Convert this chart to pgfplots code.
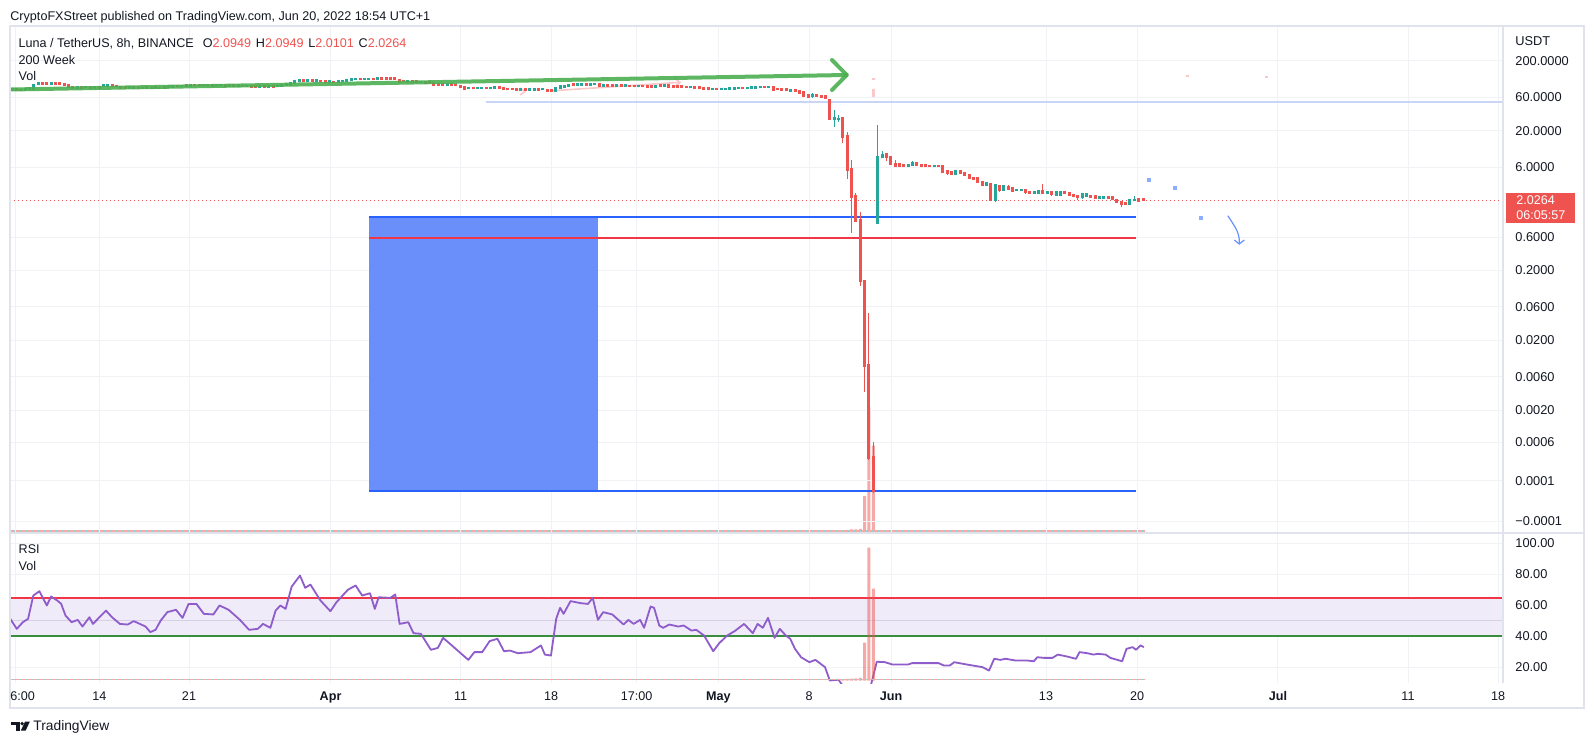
\documentclass[border=0pt]{standalone}
\usepackage{pgfplots}
\pgfplotsset{compat=1.18}
\usepackage{pgfplotstable}
\usepackage{fontspec}
\setmainfont{Liberation Sans}
\definecolor{txt}{HTML}{131722}
\definecolor{cred}{HTML}{EF5350}
\definecolor{cgreen}{HTML}{26A69A}
\definecolor{gridc}{HTML}{F0F2F5}
\definecolor{framec}{HTML}{E0E3EB}
\definecolor{rectblue}{HTML}{6A8FFB}
\definecolor{lineblue}{HTML}{2962FF}
\definecolor{linered}{HTML}{F23645}
\definecolor{arrowgreen}{HTML}{4CAF50}
\definecolor{mablue}{HTML}{C9D5F7}
\definecolor{rsipurple}{HTML}{8E5CCB}
\definecolor{bandc}{HTML}{EFEBF8}
\definecolor{midc}{HTML}{D6D0E4}
\definecolor{rsigreen}{HTML}{388E3C}
\definecolor{volteal}{HTML}{93D2CD}
\definecolor{volpink}{HTML}{F7A9A8}
\definecolor{faintpink}{HTML}{FAC8C8}
\definecolor{dotblue}{HTML}{8FADFF}
\newcommand{\fs}[1]{\fontsize{#1}{#1}\selectfont}
\newcommand{\PY}{ln(\thisrow{p})/2.302585}
\pgfplotsset{
  candlew/.style={draw=none, no markers, forget plot,
    /pgfplots/error bars/y dir=plus, /pgfplots/error bars/y explicit,
    /pgfplots/error bars/error mark=none,
    /pgfplots/error bars/error bar style={draw=#1, solid, line width=0.5pt}},
  candleb/.style={draw=none, no markers, forget plot,
    /pgfplots/error bars/y dir=plus, /pgfplots/error bars/y explicit,
    /pgfplots/error bars/error mark=none,
    /pgfplots/error bars/error bar style={draw=#1, solid, line width=1.5pt,
      shorten <=-0.4pt, shorten >=-0.4pt}}}

\pgfplotstableread{
i o h l c
1 79.4 80.8 75.6 76.9
2 78.1 79.4 74.4 75.6
7 98.4 100.0 92.1 93.7
8 96.8 98.4 92.1 93.7
10 96.8 98.4 92.1 93.7
11 96.8 98.4 90.6 92.1
12 93.7 95.2 89.1 90.6
13 90.6 92.1 82.1 83.5
14 86.2 87.7 80.8 82.1
16 84.8 86.2 80.8 82.1
18 86.2 87.7 80.8 82.1
20 84.8 86.2 80.8 82.1
23 92.1 93.7 86.2 87.7
24 89.1 90.6 84.8 86.2
25 86.2 87.7 80.8 82.1
26 86.2 87.7 80.8 82.1
28 84.8 86.2 79.4 80.8
30 83.5 84.8 79.4 80.8
31 84.8 86.2 80.8 82.1
33 84.8 86.2 80.8 82.1
35 84.8 86.2 80.8 82.1
38 89.1 90.6 84.8 86.2
40 90.6 92.1 84.8 86.2
42 92.1 93.7 87.7 89.1
43 92.1 93.7 87.7 89.1
45 92.1 93.7 87.7 89.1
46 90.6 92.1 86.2 87.7
49 90.6 92.1 86.2 87.7
51 90.6 92.1 86.2 87.7
53 89.1 90.6 84.8 86.2
55 87.7 89.1 83.5 84.8
56 87.7 89.1 83.5 84.8
58 87.7 89.1 83.5 84.8
60 87.7 89.1 83.5 84.8
67 106.8 108.6 101.7 103.4
69 106.8 108.6 101.7 103.4
71 105.1 106.8 100.0 101.7
72 103.4 105.1 98.4 100.0
74 101.7 103.4 96.8 98.4
80 112.2 114.1 106.8 108.6
83 112.2 114.1 106.8 108.6
85 114.1 116.0 108.6 110.4
86 114.1 116.0 108.6 110.4
87 114.1 116.0 108.6 110.4
88 114.1 116.0 108.6 110.4
89 108.6 110.4 96.8 98.4
90 105.1 106.8 100.0 101.7
92 105.1 106.8 98.4 100.0
93 103.4 105.1 96.8 98.4
95 101.7 103.4 95.2 96.8
96 100.0 101.7 95.2 96.8
97 96.8 98.4 89.1 90.6
98 95.2 96.8 89.1 90.6
99 95.2 96.8 89.1 90.6
101 93.7 95.2 89.1 90.6
102 92.1 93.7 87.7 89.1
103 89.1 90.6 82.1 83.5
104 84.8 86.2 78.1 79.4
106 83.5 84.8 79.4 80.8
109 83.5 84.8 79.4 80.8
112 84.8 86.2 79.4 80.8
113 83.5 84.8 76.9 78.1
114 80.8 82.1 76.9 78.1
115 80.8 82.1 76.9 78.1
116 79.4 80.8 75.6 76.9
118 79.4 80.8 75.6 76.9
121 79.4 80.8 75.6 76.9
123 78.1 79.4 73.1 74.4
124 78.1 79.4 73.1 74.4
129 93.7 95.2 89.1 90.6
132 93.7 95.2 89.1 90.6
135 95.2 96.8 84.8 86.2
137 90.6 92.1 86.2 87.7
138 90.6 92.1 86.2 87.7
140 90.6 92.1 86.2 87.7
142 89.1 90.6 84.8 86.2
143 89.1 90.6 84.8 86.2
145 89.1 90.6 84.8 86.2
146 87.7 89.1 83.5 84.8
147 89.1 90.6 82.1 83.5
149 90.6 92.1 84.8 86.2
151 90.6 92.1 82.1 83.5
152 87.7 89.1 83.5 84.8
153 87.7 89.1 82.1 83.5
154 87.7 89.1 83.5 84.8
155 86.2 87.7 82.1 83.5
157 84.8 86.2 80.8 82.1
158 84.8 86.2 79.4 80.8
159 82.1 83.5 78.1 79.4
160 82.1 83.5 78.1 79.4
162 80.8 82.1 76.9 78.1
168 83.5 84.8 79.4 80.8
173 86.2 87.7 82.1 83.5
175 84.8 86.2 74.4 75.6
176 80.8 82.1 76.9 78.1
177 80.8 82.1 75.6 76.9
178 79.4 80.8 74.4 75.6
180 76.9 78.1 71.9 73.1
181 74.4 75.6 68.5 69.6
182 71.9 73.1 62.0 63.1
183 65.2 67.4 60.0 61.0
185 65.2 67.4 62.0 63.1
186 64.1 65.2 60.0 61.0
187 63.1 64.1 57.1 58.1
188 55.3 56.2 28.5 29.2
191 30.5 30.9 13.5 16.46
192 16.85 19.2 4.12 5.49
193 5.67 7.63 0.694 2.27
194 2.33 2.54 0.997 1.030
195 1.054 1.373 0.1207 0.1378
196 0.1410 0.1450 0.003659 0.008623
197 0.008825 0.04906 0.0003842 0.0004105
198 0.0004285 0.0006959 0.0001300 0.0001351
201 9.30 9.62 7.46 8.43
202 8.43 8.71 6.47 6.69
203 6.69 7.63 6.16 6.26
204 6.69 6.91 6.06 6.26
205 6.58 6.69 6.06 6.16
208 6.91 7.03 6.26 6.37
209 6.58 6.69 6.16 6.26
210 6.47 6.58 6.06 6.16
211 6.37 6.47 6.06 6.16
213 6.37 6.47 6.06 6.16
214 6.26 6.37 5.06 5.14
215 5.31 5.40 4.66 4.89
216 5.22 5.31 4.66 4.73
218 5.31 5.40 4.81 4.89
219 4.97 5.06 4.58 4.66
220 4.73 4.81 4.08 4.15
221 4.29 4.36 3.95 4.01
222 4.22 4.29 3.57 3.63
223 3.69 3.76 3.24 3.30
225 3.46 3.52 2.01 2.04
227 3.24 3.35 2.66 2.84
229 3.18 3.30 2.84 2.88
230 3.08 3.13 2.71 2.75
233 2.88 2.93 2.45 2.61
234 2.70 2.75 2.49 2.53
237 2.79 3.46 2.49 2.53
239 2.66 2.70 2.29 2.45
242 2.70 2.75 2.49 2.53
243 2.61 2.66 2.37 2.41
244 2.45 2.49 2.25 2.29
245 2.33 2.37 2.04 2.21
248 2.37 2.41 2.18 2.21
249 2.37 2.41 2.11 2.14
252 2.29 2.33 2.11 2.14
253 2.25 2.29 2.04 2.07
254 2.04 2.07 1.85 1.88
255 1.94 1.97 1.60 1.79
256 1.88 1.91 1.73 1.76
259 2.09 2.11 1.91 1.97
260 2.0949 2.0949 2.0101 2.0264
}\redc

\pgfplotstableread{
i o h l c
0 76.9 80.8 75.6 79.4
3 76.9 80.8 75.6 79.4
4 78.1 83.5 76.9 82.1
5 79.4 93.7 78.1 92.1
6 93.7 100.0 92.1 98.4
9 93.7 100.0 92.1 98.4
15 82.1 87.7 80.8 86.2
17 83.5 87.7 82.1 86.2
19 82.1 87.7 80.8 86.2
21 86.2 92.1 84.8 90.6
22 86.2 92.1 84.8 90.6
27 82.1 86.2 80.8 84.8
29 82.1 86.2 80.8 84.8
32 80.8 84.8 79.4 83.5
34 80.8 84.8 79.4 83.5
36 84.8 89.1 83.5 87.7
37 84.8 89.1 83.5 87.7
39 86.2 90.6 84.8 89.1
41 87.7 92.1 86.2 90.6
44 89.1 93.7 87.7 92.1
47 89.1 93.7 87.7 92.1
48 89.1 93.7 87.7 92.1
50 87.7 92.1 86.2 90.6
52 87.7 92.1 86.2 90.6
54 86.2 90.6 84.8 89.1
57 84.8 89.1 83.5 87.7
59 84.8 89.1 83.5 87.7
61 86.2 90.6 84.8 89.1
62 87.7 92.1 86.2 90.6
63 90.6 95.2 89.1 93.7
64 90.6 98.4 89.1 96.8
65 96.8 106.8 95.2 105.1
66 101.7 108.6 100.0 106.8
68 103.4 108.6 101.7 106.8
70 103.4 108.6 101.7 106.8
73 100.0 105.1 98.4 103.4
75 100.0 105.1 98.4 103.4
76 101.7 106.8 100.0 105.1
77 103.4 108.6 101.7 106.8
78 106.8 112.2 105.1 110.4
79 108.6 114.1 106.8 112.2
81 108.6 114.1 106.8 112.2
82 108.6 114.1 106.8 112.2
84 108.6 116.0 106.8 114.1
91 100.0 106.8 98.4 105.1
94 98.4 103.4 96.8 101.7
100 89.1 95.2 87.7 93.7
105 80.8 84.8 79.4 83.5
107 80.8 84.8 79.4 83.5
108 80.8 84.8 79.4 83.5
110 80.8 84.8 79.4 83.5
111 82.1 86.2 80.8 84.8
117 76.9 80.8 75.6 79.4
119 76.9 80.8 75.6 79.4
120 76.9 80.8 75.6 79.4
122 78.1 82.1 76.9 80.8
125 74.4 84.8 73.1 83.5
126 80.8 89.1 79.4 87.7
127 84.8 90.6 83.5 89.1
128 87.7 93.7 86.2 92.1
130 90.6 95.2 89.1 93.7
131 90.6 95.2 89.1 93.7
133 90.6 95.2 89.1 93.7
134 92.1 96.8 90.6 95.2
136 86.2 92.1 84.8 90.6
139 87.7 92.1 86.2 90.6
141 87.7 92.1 86.2 90.6
144 86.2 90.6 84.8 89.1
148 83.5 90.6 82.1 89.1
150 87.7 92.1 86.2 90.6
156 83.5 87.7 82.1 86.2
161 78.1 82.1 76.9 80.8
163 78.1 82.1 76.9 80.8
164 78.1 82.1 76.9 80.8
165 79.4 83.5 78.1 82.1
166 79.4 83.5 78.1 82.1
167 80.8 84.8 79.4 83.5
169 80.8 84.8 79.4 83.5
170 82.1 86.2 80.8 84.8
171 82.1 86.2 80.8 84.8
172 83.5 87.7 82.1 86.2
174 83.5 87.7 82.1 86.2
179 74.4 79.4 73.1 78.1
184 63.1 68.5 58.1 65.2
189 29.2 39.7 22.9 30.5
190 29.2 33.7 27.0 30.2
199 0.9647 24.2 0.93 8.43
200 8.24 10.38 8.10 9.00
206 6.16 6.69 6.06 6.58
207 6.37 7.39 6.26 7.03
212 6.16 6.47 6.06 6.37
217 4.73 5.49 4.66 5.40
224 3.30 3.69 3.24 3.63
226 2.04 3.40 1.93 3.35
228 2.84 3.30 2.79 3.24
231 2.79 2.93 2.75 2.88
232 2.79 2.93 2.75 2.88
235 2.53 2.70 2.49 2.66
236 2.53 2.88 2.49 2.79
238 2.53 2.70 2.49 2.66
240 2.41 2.75 2.37 2.70
241 2.41 2.75 2.29 2.70
246 2.21 2.57 2.14 2.53
247 2.29 2.57 2.25 2.53
250 2.14 2.33 2.11 2.29
251 2.14 2.33 2.11 2.29
257 1.76 2.11 1.73 2.07
258 2.01 2.29 1.97 2.07
}\greenc

\pgfplotstableread{
i v
190 1.2
191 1.5
192 1.8
193 2.2
194 2.4
195 2.8
196 38
197 133
198 92
}\voldata

\pgfplotstableread{
i r
-0.4 51.3
1.1 44.8
2.5 49.1
3.7 51.3
4.9 66.3
6.3 69.1
8.0 59.9
9.0 65.7
10.4 63.1
11.3 61.0
12.3 53.4
13.7 49.1
15.1 50.6
16.2 46.3
17.8 52.3
18.6 48.0
20.1 52.3
21.6 56.6
23.0 52.3
24.8 48.0
26.6 47.6
28.0 49.8
30.7 46.3
31.8 42.7
33.0 44.2
34.2 50.2
35.7 55.6
37.7 57.1
39.2 51.9
40.6 60.9
42.4 60.9
44.1 54.5
46.3 54.1
47.7 59.9
49.8 57.1
52.4 50.6
54.5 44.2
56.5 44.8
57.7 48.0
59.4 45.5
60.6 56.6
61.7 59.9
62.9 57.7
64.3 72.1
66.2 79.2
67.4 71.3
68.6 73.4
69.7 68.5
70.9 63.1
73.2 56.2
74.6 62.0
77.2 70.0
79.0 72.8
80.5 66.3
82.3 67.8
83.4 57.7
84.3 65.2
87.0 64.8
88.1 67.0
89.1 48.0
91.1 49.1
92.3 42.0
94.0 41.6
96.3 31.3
97.9 32.5
99.1 39.0
100.5 35.6
104.9 24.8
106.3 29.8
108.1 29.8
109.8 36.9
111.6 38.4
113.1 30.4
114.5 30.8
116.3 29.1
119.2 29.8
121.6 34.1
122.5 28.2
123.9 27.6
125.1 51.3
126.0 58.4
126.8 54.5
128.4 62.7
130.7 61.4
132.4 60.9
133.5 64.8
134.7 50.6
135.9 55.6
138.0 54.1
140.6 47.6
141.7 50.6
142.9 48.0
144.4 50.6
145.3 45.5
146.8 59.2
147.6 58.4
148.8 46.9
149.7 45.5
151.1 47.6
153.2 46.3
154.4 47.0
156.2 43.7
157.3 44.2
159.1 40.5
161.2 30.4
162.6 35.6
164.4 40.5
166.1 43.3
168.3 48.0
170.3 42.0
171.4 48.0
172.6 45.5
173.8 51.9
175.3 39.0
176.5 44.8
177.9 40.5
178.9 38.4
180.0 31.9
181.4 26.5
183.3 23.3
184.7 24.8
186.9 20.1
188.0 11.5
190.0 12.0
191.5 6.0
196.0 3.0
197.5 9.0
198.8 23.6
200.7 23.3
202.4 21.8
206.0 21.8
206.9 22.7
208.9 22.7
213.0 22.7
214.2 21.2
215.6 21.2
216.6 23.3
219.5 21.8
223.1 20.1
224.6 17.9
225.8 25.5
227.2 24.8
228.4 25.5
230.7 24.4
233.3 24.4
234.9 23.9
235.7 26.5
237.2 26.1
239.2 26.1
240.4 28.2
242.5 27.0
244.6 25.5
245.4 29.8
247.2 29.1
248.6 28.2
249.6 28.7
251.4 28.2
252.5 26.1
255.2 23.9
256.2 31.9
257.6 33.0
258.4 31.3
259.4 34.1
260.2 33.0
}\rsidata

\begin{document}
\begin{tikzpicture}
\begin{scope}[x=0.5pt,y=-0.5pt]
\fill[white] (0,0) rectangle (1594,744);
\end{scope}

% ---- volume overlay, price pane
\begin{axis}[at={(5pt,-266.5pt)}, anchor=south west, scale only axis,
  width=746.5pt, height=253.5pt,
  xmin=-0.4598, xmax=342.76, ymin=-1.6, ymax=541.2, hide axis]
\addplot[ybar, bar width=1.5pt, bar shift=0pt, fill=volpink, draw=none] table[x=i,y=v]{\voldata};
\addplot[volpink, line width=0.75pt, dash pattern=on 1.5pt off 1.5pt] coordinates {(-0.46,0.6) (260.5,0.6)};
\addplot[volteal, line width=0.75pt, dash pattern=on 1.5pt off 1.5pt, dash phase=1.5pt] coordinates {(-0.46,0.6) (260.5,0.6)};
\end{axis}

% ---- price pane
\begin{axis}[at={(5pt,-266.5pt)}, anchor=south west, scale only axis,
  width=746.5pt, height=253.5pt,
  xmin=-0.4598, xmax=342.76, ymin=-4.4612, ymax=2.8024,
  axis line style={draw=none}, tick style={draw=none}, major tick length=0pt,
  xtick={0.69,20.11,40.69,73.24,103.15,123.91,143.61,162.39,183.22,202.07,237.70,258.62,291.03,320.92,341.61},
  xticklabel=\empty,
  ytick={-4.296,-3.715,-3.160,-2.69897,-2.22185,-1.69897,-1.22185,-0.69897,-0.22185,0.77815,1.30103,1.77815,2.30103},
  yticklabels={−0.0001,0.0001,0.0006,0.0020,0.0060,0.0200,0.0600,0.2000,0.6000,6.0000,20.0000,60.0000,200.0000},
  yticklabel pos=right,
  yticklabel style={anchor=west, inner sep=0pt, xshift=6pt, font=\fs{6.4}, text=txt},
  grid=major, grid style={draw=gridc, line width=0.5pt}]
% rectangle and levels
\addplot[fill=rectblue, draw=none] table[row sep=\\, x=x, y expr=\PY] {x p\\ 82.07 1.176\\ 134.7 1.176\\ 134.7 0.0001396\\ 82.07 0.0001396\\};
\addplot[lineblue, line width=1pt] table[row sep=\\, x=x, y expr=\PY] {x p\\ 82.07 1.176\\ 258.4 1.176\\};
\addplot[linered, line width=1pt] table[row sep=\\, x=x, y expr=\PY] {x p\\ 82.07 0.588\\ 258.4 0.588\\};
\addplot[lineblue, line width=1pt] table[row sep=\\, x=x, y expr=\PY] {x p\\ 82.07 0.0001396\\ 258.4 0.0001396\\};
\addplot[mablue, line width=0.75pt] table[row sep=\\, x=x, y expr=\PY] {x p\\ 109.0 51.7\\ 342.76 51.7\\};
% current price line
\addplot[cred, line width=0.5pt, dash pattern=on 0.6pt off 1.4pt] table[row sep=\\, x=x, y expr=\PY] {x p\\ -0.46 2.0264\\ 342.76 2.0264\\};
% faint annotations
\addplot[faintpink, line width=1.5pt] table[row sep=\\, x=x, y expr=\PY] {x p\\ 198.0 79.4\\ 198.0 61.0\\};
\addplot[faintpink, line width=1.5pt] table[row sep=\\, x=x, y expr=\PY] {x p\\ 198.0 114.1\\ 198.0 106.8\\};
\addplot[faintpink, line width=0.8pt] table[row sep=\\, x=x, y expr=\PY] {x p\\ 124.4 75.1\\ 153.6 99.1\\};
\addplot[faintpink, line width=0.8pt] table[row sep=\\, x=x, y expr=\PY] {x p\\ 152.2 114.1\\ 153.6 99.1\\ 152.2 84.8\\};
\addplot[faintpink, line width=0.8pt] table[row sep=\\, x=x, y expr=\PY] {x p\\ 116.8 82.1\\ 117.9 73.1\\ 116.8 65.2\\};
\addplot[faintpink, line width=1pt] table[row sep=\\, x=x, y expr=\PY] {x p\\ 269.8 122\\ 270.5 122\\};
\addplot[faintpink, line width=1pt] table[row sep=\\, x=x, y expr=\PY] {x p\\ 288.1 118\\ 288.8 118\\};
% blue annotation dots and curved arrow
\addplot[only marks, mark=square*, mark size=0.7pt, dotblue] table[row sep=\\, x=x, y expr=\PY] {x p\\ 261.4 3.95\\ 267.4 3.06\\ 273.3 1.138\\};
\addplot[lineblue!70, line width=0.6pt, smooth] table[row sep=\\, x=x, y expr=\PY] {x p\\ 279.5 1.215\\ 280.4 0.997\\ 281.1 0.845\\ 281.7 0.717\\ 282.1 0.5765\\ 282.1 0.4777\\};
\addplot[lineblue!70, line width=0.6pt] table[row sep=\\, x=x, y expr=\PY] {x p\\ 281.0 0.545\\ 282.1 0.4777\\ 283.3 0.545\\};
% candles: wicks
\addplot[candlew=cred]
  table[x=i, y expr={ln(\thisrow{l})/2.302585}, y error plus expr={(ln(\thisrow{h})-ln(\thisrow{l}))/2.302585}] {\redc};
\addplot[candlew=cgreen]
  table[x=i, y expr={ln(\thisrow{l})/2.302585}, y error plus expr={(ln(\thisrow{h})-ln(\thisrow{l}))/2.302585}] {\greenc};
% candles: bodies
\addplot[candleb=cred]
  table[x=i, y expr={ln(\thisrow{c})/2.302585}, y error plus expr={(ln(\thisrow{o})-ln(\thisrow{c}))/2.302585}] {\redc};
\addplot[candleb=cgreen]
  table[x=i, y expr={ln(\thisrow{o})/2.302585}, y error plus expr={(ln(\thisrow{c})-ln(\thisrow{o}))/2.302585}] {\greenc};
% green trend arrow
\addplot[arrowgreen, line width=2pt, opacity=0.9, line cap=round] table[row sep=\\, x=x, y expr=\PY] {x p\\ -0.46 78.1\\ 191.9 126.1\\};
\addplot[arrowgreen, line width=2pt, opacity=0.9, line cap=round, line join=round] table[row sep=\\, x=x, y expr=\PY] {x p\\ 188.5 206.7\\ 191.9 126.1\\ 188.5 76.9\\};
\coordinate (cp) at (axis cs:342.76,0.30673);
\end{axis}

% ---- RSI pane
\begin{axis}[at={(5pt,-341.5pt)}, anchor=south west, scale only axis,
  width=746.5pt, height=75pt,
  xmin=-0.4598, xmax=342.76, ymin=9.87, ymax=106.65,
  axis line style={draw=none}, tick style={draw=none}, major tick length=0pt,
  xtick={0.69,20.11,40.69,73.24,103.15,123.91,143.61,162.39,183.22,202.07,237.70,258.62,291.03,320.92,341.61},
  xticklabels={,14,21,\textbf{Apr},11,18,17:00,\textbf{May},8,\textbf{Jun},13,20,\textbf{Jul},11,18},
  xticklabel style={anchor=base, inner sep=0pt, yshift=-8.6pt, font=\fs{6.3}, text=txt},
  ytick={20,40,60,80,100}, yticklabels={20.00,40.00,60.00,80.00,100.00},
  yticklabel pos=right,
  yticklabel style={anchor=west, inner sep=0pt, xshift=6pt, font=\fs{6.4}, text=txt},
  grid=major, grid style={draw=gridc, line width=0.5pt}]
\addplot[fill=bandc, draw=none] coordinates {(-1,40) (344,40) (344,65) (-1,65)};
\addplot[midc, line width=0.6pt] coordinates {(-1,50) (344,50)};
\addplot[linered, line width=1pt] coordinates {(-1,65) (344,65)};
\addplot[rsigreen, line width=1pt] coordinates {(-1,40) (344,40)};
\addplot[rsipurple, line width=0.9pt, line join=round] table[x=i,y=r] {\rsidata};
\end{axis}

% ---- volume overlay, RSI pane
\begin{axis}[at={(5pt,-341.5pt)}, anchor=south west, scale only axis,
  width=746.5pt, height=75pt,
  xmin=-0.4598, xmax=342.76, ymin=-2.3, ymax=147.7, hide axis]
\addplot[ybar, bar width=1.5pt, bar shift=0pt, fill=cred, fill opacity=0.5, draw=none] table[x=i,y=v]{\voldata};
\addplot[volpink, line width=0.75pt, dash pattern=on 1.5pt off 1.5pt] coordinates {(-0.46,1) (260.5,1)};
\addplot[volteal, line width=0.75pt, dash pattern=on 1.5pt off 1.5pt, dash phase=1.5pt] coordinates {(-0.46,1) (260.5,1)};
\end{axis}

\node[fill=cred, text=white, anchor=north west, inner xsep=4.5pt, inner ysep=0pt,
  minimum width=34.5pt, minimum height=15.35pt, align=left,
  font=\fontsize{6.3}{7.5}\selectfont] at ([xshift=1.5pt, yshift=4pt]cp) {2.0264\\06:05:57};

\begin{scope}[x=0.5pt,y=-0.5pt]
% frame
\draw[framec, line width=1pt] (10,26) rectangle (1584,708);
\draw[framec, line width=0.6pt] (1503,26) -- (1503,683);
\draw[framec, line width=0.6pt] (10,533) -- (1584,533);
% texts
\node[anchor=base west, inner sep=0pt, font=\fs{6.3}, text=txt] at (10,20.3) {CryptoFXStreet published on TradingView.com, Jun 20, 2022 18:54 UTC+1};
\node[anchor=base west, inner sep=0pt, font=\fs{6.3}, text=txt] at (18.3,47.2) {Luna / TetherUS, 8h, BINANCE\hspace{4.5pt}O\textcolor{cred}{2.0949}\hspace{2.4pt}H\textcolor{cred}{2.0949}\hspace{2.4pt}L\textcolor{cred}{2.0101}\hspace{2.4pt}C\textcolor{cred}{2.0264}};
\node[anchor=base west, inner sep=0pt, font=\fs{6.3}, text=txt] at (18.3,64.2) {200 Week};
\node[anchor=base west, inner sep=0pt, font=\fs{6.3}, text=txt] at (18.3,80.6) {Vol};
\node[anchor=base west, inner sep=0pt, font=\fs{6.3}, text=txt] at (18.3,553.3) {RSI};
\node[anchor=base west, inner sep=0pt, font=\fs{6.3}, text=txt] at (18.3,570) {Vol};
\node[anchor=base west, inner sep=0pt, font=\fs{6.4}, text=txt] at (1515,45.5) {USDT};
\node[anchor=base west, inner sep=0pt, font=\fs{6.3}, text=txt] at (10,700.2) {6:00};
% TradingView logo
\fill[txt] (11.2,721.7) rectangle (19.5,725.2);
\fill[txt] (15.6,721.7) rectangle (19.5,730.7);
\fill[txt] (22.2,723.6) circle (1.9);
\fill[txt] (25.0,721.7) -- (29.8,721.7) -- (25.6,730.7) -- (20.8,730.7) -- cycle;
\node[anchor=base west, inner sep=0pt, font=\fs{6.9}, text=txt] at (33,730.6) {TradingView};
\pgfresetboundingbox
\path[use as bounding box] (0,0) rectangle (1594,744);
\end{scope}
\end{tikzpicture}
\end{document}
